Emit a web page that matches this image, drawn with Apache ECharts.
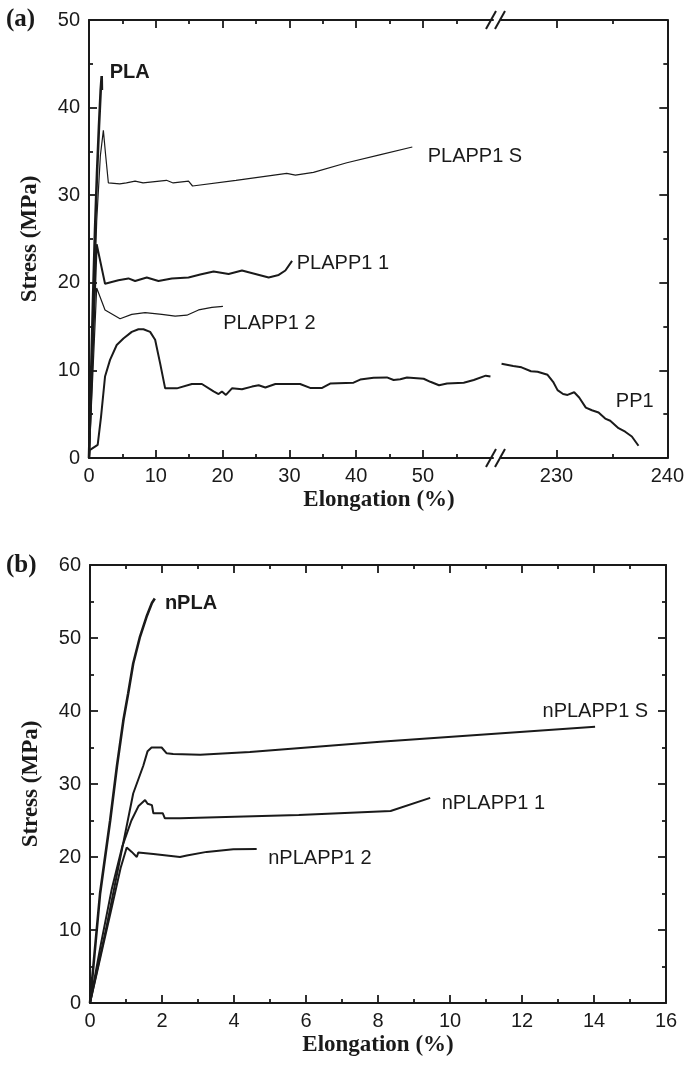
<!DOCTYPE html>
<html><head><meta charset="utf-8">
<script src="https://cdn.jsdelivr.net/npm/echarts@6/dist/echarts.min.js"></script>
<style>html,body{margin:0;padding:0;background:#fff}#c{width:687px;height:1066px}</style>
</head><body><div id="c"></div>
<script>
// ---------- Panel (a) data: [elongation %, stress MPa] ----------
const aTicksLeft = [0, 10, 20, 30, 40, 50];
const aTicksRight = [230, 240];
const aMinorRight = [235];
const plaA = [[0,0],[0.3,9],[0.6,18],[0.9,26],[1.2,32.5],[1.5,38],[1.75,42],[1.9,43.6],[1.93,42]];
const plapp1SA = [[0,0],[0.6,14],[1.15,27],[1.7,34.5],[2.15,37.4],[2.5,34.5],[2.9,31.4],[4.6,31.3],[5.6,31.4],[6.9,31.6],[8.1,31.4],[11.6,31.7],[12.6,31.4],[14.9,31.6],[15.5,31.05],[22,31.7],[29.6,32.5],[30.9,32.3],[33.6,32.6],[38.6,33.7],[43.5,34.6],[48.4,35.5]];
const plapp11A = [[0,0],[0.6,13],[1.15,24.4],[1.3,24.3],[2.4,19.9],[4.4,20.3],[5.9,20.5],[6.9,20.2],[8.65,20.6],[10.4,20.2],[12.4,20.5],[14.9,20.6],[16.65,20.95],[18.65,21.3],[20.9,21.0],[22.9,21.4],[24.9,21.0],[26.9,20.6],[28.4,20.9],[29.4,21.4],[30.4,22.5]];
const plapp12A = [[0,0],[0.6,10],[1.15,19.4],[1.4,19.3],[2.4,16.9],[4.65,15.9],[6.4,16.4],[8.4,16.6],[10.9,16.4],[12.9,16.2],[14.65,16.3],[16.4,16.9],[18.4,17.2],[20.05,17.3]];
const pp1A = [[0,0],[0.1,0.9],[1.3,1.5],[1.8,4.7],[2.4,9.3],[3.15,11.2],[4.15,12.9],[5.15,13.65],[6.4,14.4],[7.4,14.7],[8.15,14.7],[9.15,14.4],[9.9,13.5],[10.65,10.8],[11.4,7.95],[13.15,7.95],[15.4,8.45],[16.9,8.45],[18.65,7.6],[19.4,7.3],[19.9,7.6],[20.5,7.2],[21.4,7.95],[22.9,7.85],[24.4,8.15],[25.4,8.3],[26.4,8.05],[27.9,8.45],[29.4,8.45],[31.6,8.45],[33.1,8.0],[34.9,8.0],[36.1,8.5],[39.6,8.6],[40.6,8.95],[42.6,9.15],[44.6,9.2],[45.6,8.9],[46.6,9.0],[47.6,9.2],[50.1,9.05],[51.1,8.7],[52.4,8.3],[53.6,8.5],[56.1,8.6],[57.6,8.9],[59.4,9.4],[60.1,9.3]];
const pp1B = [[225.05,10.75],[226.1,10.5],[226.85,10.35],[227.7,9.9],[228.3,9.85],[229.2,9.5],[229.7,8.7],[230.1,7.75],[230.6,7.3],[231.0,7.2],[231.6,7.5],[232.05,6.9],[232.65,5.75],[233.2,5.45],[233.8,5.2],[234.4,4.5],[234.85,4.25],[235.6,3.4],[236.2,3.0],[236.8,2.45],[237.4,1.4]];

// ---------- Panel (b) data ----------
const nPLA = [[0,0],[0.28,15],[0.56,25],[0.75,32.5],[0.93,38.8],[1.06,42.4],[1.2,46.5],[1.39,50.2],[1.57,52.9],[1.72,54.8],[1.8,55.4]];
const nPLAPP1S = [[0,0],[0.46,10.5],[0.83,19.6],[1.2,28.7],[1.48,32.5],[1.6,34.5],[1.71,35.0],[1.99,35.0],[2.13,34.2],[2.31,34.1],[3.06,34.0],[4.44,34.4],[8.06,35.8],[14.03,37.85]];
const nPLAPP11 = [[0,0],[0.3,8],[0.6,15.5],[0.9,21.5],[1.15,25],[1.35,27],[1.53,27.8],[1.6,27.3],[1.62,27.1],[1.72,27.1],[1.76,26.0],[2.02,26.0],[2.08,25.3],[2.5,25.3],[5.8,25.75],[8.35,26.3],[9.45,28.1]];
const nPLAPP12 = [[0,0],[0.3,6.5],[0.6,13],[0.85,18.5],[1.02,21.3],[1.16,20.7],[1.3,20.0],[1.34,20.6],[1.76,20.4],[2.5,20.0],[2.69,20.2],[3.24,20.7],[3.98,21.05],[4.63,21.1]];

const INK = '#1a1a1a';
const SANS = '"Liberation Sans", Arial, Helvetica, sans-serif';
const SERIF = '"Liberation Serif", "Times New Roman", serif';

const chart = echarts.init(document.getElementById('c'), null, {renderer: 'canvas'});

function axisBase(extra) {
  return Object.assign({
    type: 'value',
    axisLine: {show: true, onZero: false, lineStyle: {color: INK, width: 2}},
    axisTick: {show: true, inside: true, length: 8, lineStyle: {color: INK, width: 1.8}},
    minorTick: {show: true, splitNumber: 2, length: 4, lineStyle: {color: INK, width: 1.8}},
    axisLabel: {show: false},
    splitLine: {show: false},
    minorSplitLine: {show: false}
  }, extra);
}
const lbl = {show: true, color: INK, fontSize: 20, fontFamily: SANS};

function tag(text, coord, bold) {
  return {
    symbol: 'circle', symbolSize: 0, silent: true, animation: false,
    label: {show: true, position: 'right', distance: 0, formatter: text, color: INK,
      fontSize: 20, fontFamily: SANS, fontWeight: bold ? 'bold' : 'normal'},
    data: [{coord: coord}]
  };
}
function line(name, data, xi, yi, w, mp) {
  return {type: 'line', name: name, data: data, xAxisIndex: xi, yAxisIndex: yi,
    showSymbol: false, symbol: 'none', smooth: false, animation: false,
    lineStyle: {color: INK, width: w}, markPoint: mp};
}

const option = {
  animation: false,
  backgroundColor: '#fff',
  grid: [
    {left: 89, top: 20, width: 404, height: 438},   // 0 top-left
    {left: 501, top: 20, width: 168, height: 438},  // 1 top-right
    {left: 90, top: 565, width: 576, height: 438},  // 2 bottom
    {left: 501, top: 20, width: 168, height: 438}   // 3 minor overlay for top-right
  ],
  xAxis: [
    axisBase({gridIndex: 0, position: 'bottom', min: 0, max: 60.48, interval: 10,
      axisTick: {show: true, inside: true, length: 8, customValues: aTicksLeft, lineStyle: {color: INK, width: 1.8}},
      axisLabel: Object.assign({customValues: aTicksLeft, margin: 8}, lbl)}),
    axisBase({gridIndex: 0, position: 'top', min: 0, max: 60.48, interval: 10,
      axisTick: {show: true, inside: true, length: 8, customValues: aTicksLeft, lineStyle: {color: INK, width: 1.8}}}),
    axisBase({gridIndex: 1, position: 'bottom', min: 225, max: 240, interval: 5, minorTick: {show: false},
      axisTick: {show: true, inside: true, length: 8, customValues: aTicksRight, lineStyle: {color: INK, width: 1.8}},
      axisLabel: Object.assign({customValues: aTicksRight, margin: 8}, lbl)}),
    axisBase({gridIndex: 1, position: 'top', min: 225, max: 240, interval: 5, minorTick: {show: false},
      axisTick: {show: true, inside: true, length: 8, customValues: aTicksRight, lineStyle: {color: INK, width: 1.8}}}),
    axisBase({gridIndex: 2, position: 'bottom', min: 0, max: 16, interval: 2,
      axisLabel: Object.assign({margin: 8}, lbl),
      name: 'Elongation (%)', nameLocation: 'middle', nameGap: 31,
      nameTextStyle: {fontFamily: SERIF, fontWeight: 'bold', fontSize: 23, color: INK}}),
    axisBase({gridIndex: 2, position: 'top', min: 0, max: 16, interval: 2}),
    axisBase({gridIndex: 3, position: 'bottom', min: 225, max: 240, interval: 5, minorTick: {show: false},
      axisLine: {show: false},
      axisTick: {show: true, inside: true, length: 4, customValues: aMinorRight, lineStyle: {color: INK, width: 1.8}}}),
    axisBase({gridIndex: 3, position: 'top', min: 225, max: 240, interval: 5, minorTick: {show: false},
      axisLine: {show: false},
      axisTick: {show: true, inside: true, length: 4, customValues: aMinorRight, lineStyle: {color: INK, width: 1.8}}})
  ],
  yAxis: [
    axisBase({gridIndex: 0, position: 'left', min: 0, max: 50, interval: 10,
      axisLabel: Object.assign({margin: 9}, lbl),
      name: 'Stress (MPa)', nameLocation: 'middle', nameGap: 47, nameRotate: 90,
      nameTextStyle: {fontFamily: SERIF, fontWeight: 'bold', fontSize: 23, color: INK}}),
    axisBase({gridIndex: 1, position: 'right', min: 0, max: 50, interval: 10}),
    axisBase({gridIndex: 2, position: 'left', min: 0, max: 60, interval: 10,
      axisLabel: Object.assign({margin: 9}, lbl),
      name: 'Stress (MPa)', nameLocation: 'middle', nameGap: 47, nameRotate: 90,
      nameTextStyle: {fontFamily: SERIF, fontWeight: 'bold', fontSize: 23, color: INK}}),
    axisBase({gridIndex: 2, position: 'right', min: 0, max: 60, interval: 10}),
    axisBase({gridIndex: 3, position: 'right', min: 0, max: 50, interval: 10, show: false})
  ],
  series: [
    line('PLA', plaA, 0, 0, 2.6, tag('PLA', [3.1, 44], true)),
    line('PLAPP1 S', plapp1SA, 0, 0, 1.2, tag('PLAPP1 S', [50.7, 34.4])),
    line('PLAPP1 1', plapp11A, 0, 0, 2, tag('PLAPP1 1', [31.1, 22.2])),
    line('PLAPP1 2', plapp12A, 0, 0, 1.2, tag('PLAPP1 2', [20.1, 15.4])),
    line('PP1', pp1A, 0, 0, 2),
    line('PP1 ', pp1B, 2, 1, 2, tag('PP1', [235.36, 6.4])),
    line('nPLA', nPLA, 4, 2, 2.6, tag('nPLA', [2.08, 54.75], true)),
    line('nPLAPP1 S', nPLAPP1S, 4, 2, 2, tag('nPLAPP1 S', [12.57, 40.0])),
    line('nPLAPP1 1', nPLAPP11, 4, 2, 2, tag('nPLAPP1 1', [9.77, 27.35])),
    line('nPLAPP1 2', nPLAPP12, 4, 2, 2, tag('nPLAPP1 2', [4.95, 19.8]))
  ],
  graphic: [
    {type: 'text', left: 6, top: 7, style: {text: '(a)', font: 'bold 25px ' + SERIF, fill: INK}},
    {type: 'text', left: 6, top: 553, style: {text: '(b)', font: 'bold 25px ' + SERIF, fill: INK}},
    {type: 'text', x: 379, y: 500, style: {text: 'Elongation (%)', font: 'bold 23px ' + SERIF, fill: INK, align: 'center', verticalAlign: 'middle'}},
    // axis break marks
    {type: 'line', shape: {x1: 486, y1: 29, x2: 496, y2: 11}, style: {stroke: INK, lineWidth: 2}},
    {type: 'line', shape: {x1: 495, y1: 29, x2: 505, y2: 11}, style: {stroke: INK, lineWidth: 2}},
    {type: 'line', shape: {x1: 486, y1: 467, x2: 496, y2: 449}, style: {stroke: INK, lineWidth: 2}},
    {type: 'line', shape: {x1: 495, y1: 467, x2: 505, y2: 449}, style: {stroke: INK, lineWidth: 2}}
  ]
};
chart.setOption(option);
</script>
</body></html>
